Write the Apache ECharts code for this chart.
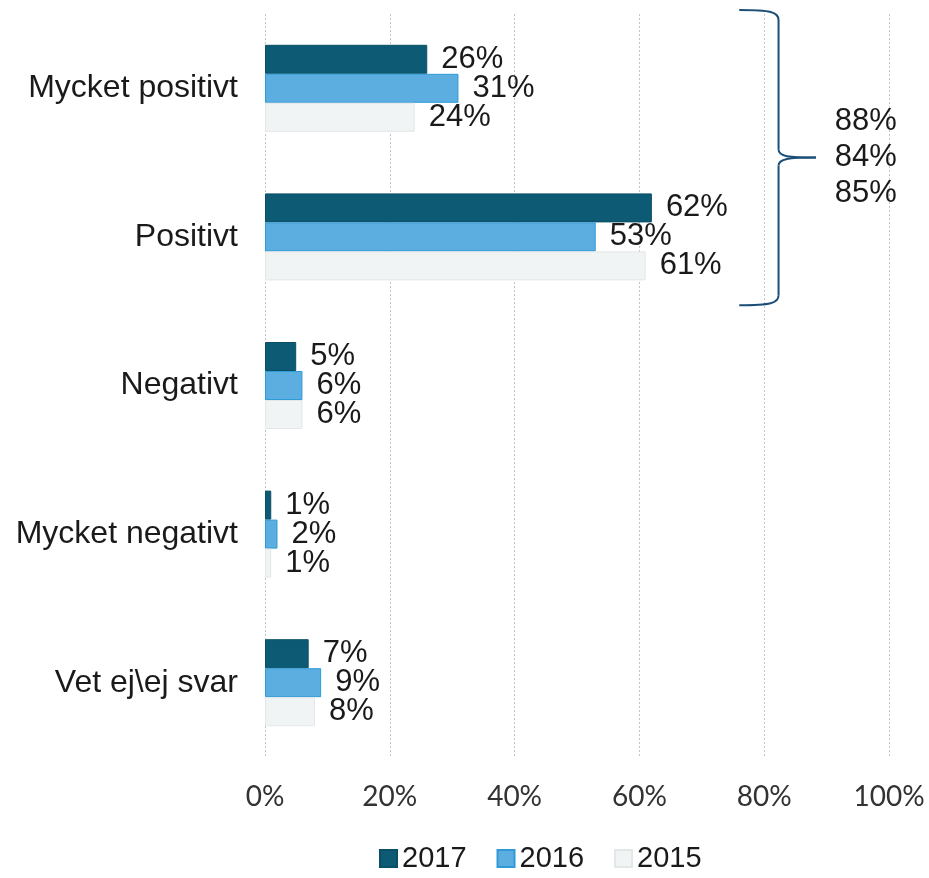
<!DOCTYPE html>
<html>
<head>
<meta charset="utf-8">
<script src="https://cdn.jsdelivr.net/npm/echarts@6/dist/echarts.min.js"></script>
<style>
html,body{margin:0;padding:0;background:#fff;}
#main{width:929px;height:878px;}
</style>
</head>
<body>
<div id="main"></div>
<script>
var categories = ['Mycket positivt', 'Positivt', 'Negativt', 'Mycket negativt', 'Vet ej\\ej svar'];
var years = ['2017', '2016', '2015'];
var v2017 = [26, 62, 5, 1, 7];
var v2016 = [31, 53, 6, 2, 9];
var v2015 = [24, 61, 6, 1, 8];
var xTicks = [0, 20, 40, 60, 80, 100];

var chart = echarts.init(document.getElementById('main'));

var textFont = '"Liberation Sans", Arial, sans-serif';

function barSeries(name, values, color, border){
	return {
		name: name,
		type: 'bar',
		data: values,
		barWidth: 29,
		barGap: '0%',
		itemStyle: { color: color, borderColor: border, borderWidth: 1 },
		label: {
			show: true,
			position: 'right',
			distance: 14,
			formatter: '{c}%',
			fontFamily: textFont,
			fontSize: 31,
			color: '#1a1a1a'
		}
	};
}

var option = {
	backgroundColor: '#fff',
	animation: false,
	grid: { left: 265, right: 40, top: 14, bottom: 121, containLabel: false },
	legend: {
		bottom: 0,
		left: 374,
		itemWidth: 17,
		itemHeight: 17,
		itemGap: 30,
		icon: 'rect',
		data: years,
		textStyle: { fontFamily: textFont, fontSize: 29, color: '#1a1a1a' }
	},
	xAxis: {
		type: 'value',
		min: 0,
		max: 100,
		interval: 20,
		axisLine: { show: false },
		axisTick: { show: false },
		splitLine: { lineStyle: { color: '#c4c4c4', type: [2, 2], width: 1 } },
		axisLabel: {
			margin: 26,
			fontFamily: 'Lato, "Open Sans", sans-serif',
			fontSize: 28,
			color: '#333',
			formatter: function(v){ return xTicks.indexOf(v) > -1 ? v + '%' : ''; }
		}
	},
	yAxis: {
		type: 'category',
		inverse: true,
		data: categories,
		axisLine: { show: false },
		axisTick: { show: false },
		axisLabel: { margin: 27, fontFamily: textFont, fontSize: 32, color: '#1a1a1a' }
	},
	series: [
		barSeries('2017', v2017, '#0d5a74', '#0a4f66'),
		barSeries('2016', v2016, '#5daee0', '#2f9ad6'),
		barSeries('2015', v2015, '#f1f4f4', '#e3e7e7')
	]
};

chart.setOption(option);

// klammer runt de två positiva kategorierna
(function(){
	var x0 = chart.convertToPixel({ xAxisIndex: 0 }, 76);
	var x1 = chart.convertToPixel({ xAxisIndex: 0 }, 82.3);
	var x2 = chart.convertToPixel({ xAxisIndex: 0 }, 88.3);
	var xt = chart.convertToPixel({ xAxisIndex: 0 }, 91.3);
	var c0 = chart.convertToPixel({ yAxisIndex: 0 }, categories[0]);
	var c1 = chart.convertToPixel({ yAxisIndex: 0 }, categories[1]);
	var half = (c1 - c0) / 2;
	var top = c0 - half - 4;
	var bot = c1 + half - 6;
	var mid = (top + bot) / 2;
	var st = { stroke: '#1b4f78', lineWidth: 2, fill: null };
	function curve(a, b, c, d){
		return { type: 'bezierCurve', shape: { x1: a[0], y1: a[1], cpx1: b[0], cpy1: b[1], cpx2: c[0], cpy2: c[1], x2: d[0], y2: d[1] }, style: st };
	}
	function line(a, b){
		return { type: 'line', shape: { x1: a[0], y1: a[1], x2: b[0], y2: b[1] }, style: st };
	}
	var sums = [];
	var all = [v2017, v2016, v2015];
	for (var i = 0; i < all.length; i++) {
		sums.push((all[i][0] + all[i][1]) + '%');
	}
	chart.setOption({
		graphic: [
			curve([x0, top], [x1 - 8, top], [x1, top + 2], [x1, top + 10]),
			line([x1, top + 10], [x1, mid - 8]),
			curve([x1, mid - 8], [x1, mid - 1], [x1 + 10, mid], [x2, mid]),
			curve([x2, mid], [x1 + 10, mid], [x1, mid + 1], [x1, mid + 8]),
			line([x1, mid + 8], [x1, bot - 10]),
			curve([x1, bot - 10], [x1, bot - 2], [x1 - 8, bot], [x0, bot]),
			{
				type: 'text',
				x: xt,
				y: mid,
				style: {
					text: sums.join('\n'),
					fontFamily: textFont,
					fontSize: 31,
					lineHeight: 36,
					fill: '#1a1a1a',
					align: 'left',
					verticalAlign: 'middle'
				}
			}
		]
	});
})();
</script>
</body>
</html>
